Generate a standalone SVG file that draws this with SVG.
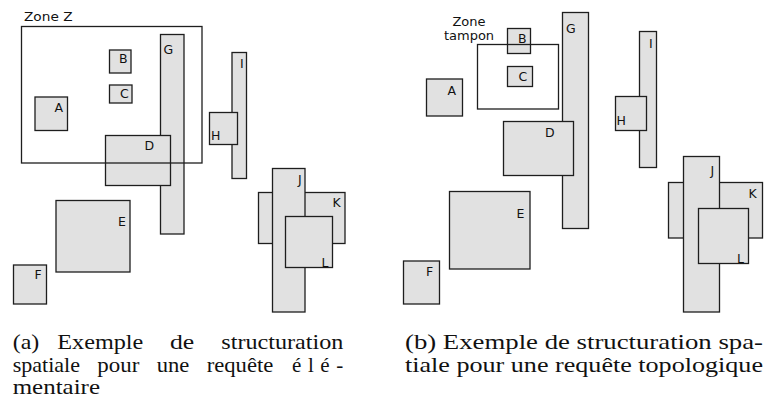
<svg xmlns="http://www.w3.org/2000/svg" width="764" height="412" viewBox="0 0 764 412">
<style>
.b{fill:#e1e1e1;stroke:#1e1e1e;stroke-width:1.3}
.z{fill:none;stroke:#1e1e1e;stroke-width:1.3}
.l{font-family:"DejaVu Sans",sans-serif;font-size:12.5px;fill:#111}
.zt{font-family:"DejaVu Sans",sans-serif;fill:#111}
.c{font-family:"Liberation Serif",serif;font-size:21px;fill:#111}
</style>
<rect width="764" height="412" fill="#fff"/>
<g id="connectors"/>
<!-- Panel (a) -->
<g id="a-A"><rect class="b" x="35" y="97" width="32.5" height="33.5"/><text class="l" x="54.5" y="112">A</text></g>
<g id="a-B"><rect class="b" x="109.5" y="50" width="21.5" height="23"/><text class="l" x="119" y="63">B</text></g>
<g id="a-C"><rect class="b" x="109.5" y="85" width="22.5" height="18"/><text class="l" x="120" y="97.5">C</text></g>
<g id="a-G"><rect class="b" x="160.5" y="34.5" width="23.5" height="199.5"/><text class="l" x="163.5" y="53.5">G</text></g>
<g id="a-D"><rect class="b" x="105.5" y="135.5" width="65" height="50"/><text class="l" x="144.5" y="150">D</text></g>
<g id="a-I"><rect class="b" x="232" y="52.5" width="14.5" height="126"/><text class="l" x="240" y="68">I</text></g>
<g id="a-H"><rect class="b" x="209.5" y="112.5" width="28" height="32"/><text class="l" x="211" y="140">H</text></g>
<g id="a-E"><rect class="b" x="56" y="200.5" width="74" height="71.5"/><text class="l" x="118" y="226">E</text></g>
<g id="a-F"><rect class="b" x="13.5" y="265" width="33" height="39"/><text class="l" x="34.5" y="279">F</text></g>
<g id="a-K"><rect class="b" x="258.5" y="192.5" width="86.5" height="51"/><text class="l" x="332.5" y="206.5">K</text></g>
<g id="a-J"><rect class="b" x="272.5" y="168.5" width="32.5" height="143.5"/><text class="l" x="298" y="184">J</text></g>
<g id="a-L"><rect class="b" x="285.5" y="216.5" width="47" height="51"/><text class="l" x="321.5" y="266.5">L</text></g>
<g id="a-zoneZ"><rect class="z" x="21.5" y="26.5" width="180.5" height="136.5"/><text class="zt" x="24" y="21" font-size="12" textLength="48.5" lengthAdjust="spacingAndGlyphs">Zone Z</text></g>
<!-- Panel (b) -->
<g id="b-A"><rect class="b" x="426.5" y="79" width="36" height="37"/><text class="l" x="447.5" y="94.5">A</text></g>
<g id="b-B"><rect class="b" x="507.5" y="28.5" width="23" height="25"/><text class="l" x="518" y="42.5">B</text></g>
<g id="b-C"><rect class="b" x="507.5" y="66.5" width="25" height="20"/><text class="l" x="518.5" y="81">C</text></g>
<g id="b-zone"><rect class="z" x="477.5" y="44.5" width="81" height="64.5"/><text class="zt" font-size="13" text-anchor="middle" x="469" y="26">Zone</text><text class="zt" font-size="13" text-anchor="middle" x="469" y="40">tampon</text></g>
<g id="b-G"><rect class="b" x="562.5" y="12.5" width="26" height="216"/><text class="l" x="566" y="32.5">G</text></g>
<g id="b-D"><rect class="b" x="503.5" y="121.5" width="70" height="54"/><text class="l" x="545" y="137">D</text></g>
<g id="b-I"><rect class="b" x="639.5" y="31.5" width="17" height="136"/><text class="l" x="649" y="48">I</text></g>
<g id="b-H"><rect class="b" x="615.5" y="96.5" width="31" height="34"/><text class="l" x="616.5" y="125">H</text></g>
<g id="b-E"><rect class="b" x="449.5" y="191.5" width="80.5" height="77.5"/><text class="l" x="516.5" y="218">E</text></g>
<g id="b-F"><rect class="b" x="403.5" y="261" width="36" height="43"/><text class="l" x="426" y="276">F</text></g>
<g id="b-K"><rect class="b" x="668.5" y="182.5" width="94" height="55.5"/><text class="l" x="748.5" y="197.5">K</text></g>
<g id="b-J"><rect class="b" x="683.5" y="156.5" width="36" height="155.5"/><text class="l" x="710.5" y="175">J</text></g>
<g id="b-L"><rect class="b" x="698.5" y="208.5" width="50" height="55"/><text class="l" x="737" y="262.5">L</text></g>
<!-- Captions -->
<g id="caption-a" class="c">
<text x="12.7" y="349" textLength="26.6" lengthAdjust="spacingAndGlyphs">(a)</text>
<text x="57.3" y="349" textLength="86" lengthAdjust="spacingAndGlyphs">Exemple</text>
<text x="170" y="349" textLength="24.3" lengthAdjust="spacingAndGlyphs">de</text>
<text x="221.3" y="349" textLength="122" lengthAdjust="spacingAndGlyphs">structuration</text>
<text x="12.7" y="371.5" textLength="67.3" lengthAdjust="spacingAndGlyphs">spatiale</text>
<text x="97.3" y="371.5" textLength="42" lengthAdjust="spacingAndGlyphs">pour</text>
<text x="156.7" y="371.5" textLength="32.6" lengthAdjust="spacingAndGlyphs">une</text>
<text x="206.7" y="371.5" textLength="66.6" lengthAdjust="spacingAndGlyphs">requête</text>
<text x="292" y="371.5" textLength="51.3" lengthAdjust="spacing">élé-</text>
<text x="12.7" y="394" textLength="87.3" lengthAdjust="spacingAndGlyphs">mentaire</text>
</g>
<g id="caption-b" class="c">
<text x="405" y="349" textLength="358" lengthAdjust="spacingAndGlyphs">(b) Exemple de structuration spa-</text>
<text x="405" y="371.5" textLength="358" lengthAdjust="spacingAndGlyphs">tiale pour une requête topologique</text>
</g>
</svg>
